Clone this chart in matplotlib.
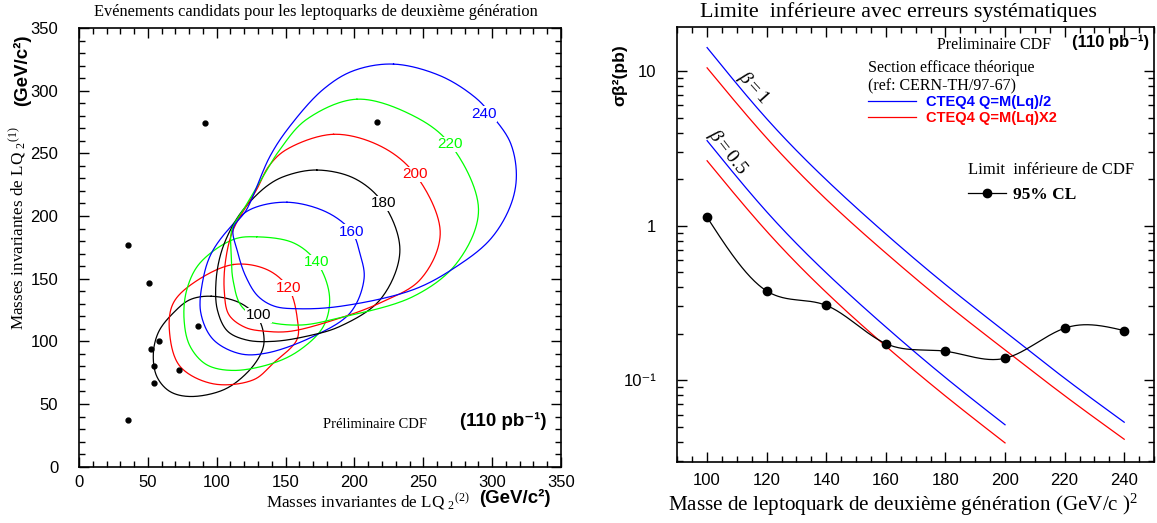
import numpy as np
import matplotlib
matplotlib.use("Agg")
import matplotlib.pyplot as plt
from matplotlib.lines import Line2D
from matplotlib.ticker import MultipleLocator, LogLocator, FixedLocator, FixedFormatter, NullFormatter

plt.rcParams['mathtext.fontset'] = 'custom'
plt.rcParams['mathtext.rm'] = 'Liberation Serif'
plt.rcParams['mathtext.it'] = 'Liberation Serif:italic'
plt.rcParams['mathtext.bf'] = 'Liberation Serif:bold'
SERIF = ['Liberation Serif', 'DejaVu Serif']
SANS = ['Liberation Sans', 'DejaVu Sans']

# ---------------- left panel data ----------------
event_m2 = [35.8, 50.9, 86.2, 58.1, 52.1, 54.7, 72.4, 54.7, 35.6, 91.5, 216.5]
event_m1 = [176.5, 146.9, 112.0, 100.0, 94.1, 80.0, 76.8, 66.7, 37.6, 274.3, 275.0]

contour_masses = [100, 120, 140, 160, 180, 200, 220, 240]
contour_colors = ['black', 'red', '#00ff00', 'blue', 'black', 'red', '#00ff00', 'blue']

c100_x = [96.0, 80.7, 68.5, 58.0, 54.0, 56.5, 66.0, 80.7, 104.9, 121.8, 132.0, 134.4, 130.3, 117.0]
c100_y = [136.0, 133.3, 122.7, 108.0, 90.7, 72.0, 60.0, 56.0, 61.3, 74.7, 90.0, 101.3, 118.0, 130.6]

c120_x = [112.1, 83.1, 68.5, 65.6, 73.4, 97.6, 126.6, 141.2, 158.2, 158.6, 152.1, 136.4]
c120_y = [161.3, 146.6, 130.6, 109.3, 80.0, 66.1, 69.3, 82.7, 101.3, 117.3, 142.6, 157.3]

c140_x = [129.0, 112.1, 87.9, 78.3, 76.3, 80.7, 92.8, 112.1, 141.2, 160.6, 177.5, 181.9, 172.7, 155.7]
c140_y = [183.4, 181.3, 162.6, 141.3, 117.3, 96.0, 81.3, 76.8, 82.7, 93.3, 112.0, 136.0, 163.1, 178.6]

c160_x = [151.0, 124.0, 109.0, 96.0, 90.0, 88.4, 97.6, 117.0, 136.4, 170.2, 196.9, 207.0, 204.0, 198.0, 180.0]
c160_y = [211.0, 205.0, 190.0, 170.0, 149.0, 123.0, 101.3, 90.1, 90.7, 104.0, 122.7, 150.0, 170.0, 187.5, 203.0]

c180_x = [172.7, 150.0, 136.4, 119.4, 110.0, 103.0, 99.5, 100.5, 108.0, 122.0, 141.2, 165.0, 189.6, 218.7, 233.0, 221.0, 200.0]
c180_y = [236.7, 232.0, 223.9, 205.3, 189.0, 170.0, 148.0, 125.0, 108.0, 101.0, 100.0, 104.0, 112.0, 133.3, 172.0, 210.0, 230.0]

c200_x = [184.8, 150.9, 138.0, 129.1, 112.1, 106.5, 105.5, 109.0, 121.0, 136.0, 153.3, 185.0, 218.7, 247.8, 262.3, 244.1, 218.7]
c200_y = [265.2, 253.2, 240.0, 221.3, 189.3, 165.0, 140.0, 121.0, 111.0, 108.0, 108.0, 117.0, 130.7, 149.3, 186.6, 233.3, 255.9]

c220_x = [201.8, 165.4, 146.0, 133.9, 121.0, 111.0, 110.5, 112.0, 118.0, 133.0, 160.0, 190.0, 242.9, 274.4, 290.1, 269.6, 242.9]
c220_y = [293.2, 277.2, 253.2, 231.9, 208.0, 189.0, 170.0, 148.0, 128.0, 117.0, 113.0, 119.0, 135.9, 162.6, 205.3, 257.2, 279.9]

c240_x = [228.4, 199.3, 177.5, 153.3, 138.8, 121.8, 112.0, 115.0, 121.0, 130.0, 142.0, 160.0, 190.0, 242.9, 274.4, 298.6, 313.2, 317.6, 313.2, 300.0, 287.7, 262.3]
c240_y = [321.2, 315.9, 301.2, 271.9, 247.9, 205.3, 190.0, 172.0, 152.0, 136.0, 128.0, 126.0, 128.0, 141.3, 159.9, 181.3, 207.9, 232.0, 258.6, 280.0, 294.6, 311.9]

label_x = [130.3, 152.1, 172.7, 198.0, 221.0, 244.1, 269.6, 293.8]
label_y = [120.8, 142.6, 163.1, 187.5, 210.0, 233.3, 257.2, 281.2]

# ---------------- right panel data ----------------
lq_mass = [100, 120, 140, 160, 180, 200, 220, 240]
cdf_limit = [1.133, 0.378, 0.305, 0.1725, 0.154, 0.1387, 0.217, 0.2094]

theory_mass_b1 = [100, 120, 140, 160, 180, 200, 220, 240]
sigma_b1_half = [14.2, 4.92, 1.98, 0.883, 0.416, 0.206, 0.103, 0.0535]
sigma_b1_x2 = [10.5, 3.69, 1.48, 0.665, 0.315, 0.157, 0.0794, 0.0415]

theory_mass_b05 = [100, 120, 140, 160, 180, 200]
sigma_b05_half = [3.55, 1.23, 0.495, 0.221, 0.104, 0.0515]
sigma_b05_x2 = [2.63, 0.92, 0.37, 0.166, 0.079, 0.0393]

right_ytick_vals = [0.1, 1, 10]
right_ytick_text = ['10\u207b\u00b9', '1', '10']


def closed_smooth(xs, ys, n=30):
    P = np.column_stack([xs, ys]).astype(float)
    N = len(P)
    out = []
    for i in range(N):
        p0, p1, p2, p3 = P[(i - 1) % N], P[i], P[(i + 1) % N], P[(i + 2) % N]
        t0 = 0.0
        t1 = t0 + np.linalg.norm(p1 - p0) ** 0.5
        t2 = t1 + np.linalg.norm(p2 - p1) ** 0.5
        t3 = t2 + np.linalg.norm(p3 - p2) ** 0.5
        t = np.linspace(t1, t2, n, endpoint=False)[:, None]
        A1 = (t1 - t) / (t1 - t0) * p0 + (t - t0) / (t1 - t0) * p1
        A2 = (t2 - t) / (t2 - t1) * p1 + (t - t1) / (t2 - t1) * p2
        A3 = (t3 - t) / (t3 - t2) * p2 + (t - t2) / (t3 - t2) * p3
        B1 = (t2 - t) / (t2 - t0) * A1 + (t - t0) / (t2 - t0) * A2
        B2 = (t3 - t) / (t3 - t1) * A2 + (t - t1) / (t3 - t1) * A3
        C = (t2 - t) / (t2 - t1) * B1 + (t - t1) / (t2 - t1) * B2
        out.append(C)
    out = np.vstack(out + [P[:1]])
    return out[:, 0], out[:, 1]


def natural_spline(x, y, xs):
    x = np.asarray(x, float)
    a = np.asarray(y, float)
    n = len(x)
    h = np.diff(x)
    A = np.zeros((n, n))
    r = np.zeros(n)
    A[0, 0] = A[-1, -1] = 1.0
    for i in range(1, n - 1):
        A[i, i - 1] = h[i - 1]
        A[i, i] = 2 * (h[i - 1] + h[i])
        A[i, i + 1] = h[i]
        r[i] = 3 * ((a[i + 1] - a[i]) / h[i] - (a[i] - a[i - 1]) / h[i - 1])
    c = np.linalg.solve(A, r)
    b = (a[1:] - a[:-1]) / h - h * (2 * c[:-1] + c[1:]) / 3
    d = (c[1:] - c[:-1]) / (3 * h)
    idx = np.clip(np.searchsorted(x, xs) - 1, 0, n - 2)
    dx = xs - x[idx]
    return a[idx] + b[idx] * dx + c[idx] * dx ** 2 + d[idx] * dx ** 3


def log_smooth(x, y, num=300):
    xs = np.linspace(x[0], x[-1], num)
    return xs, 10 ** natural_spline(x, np.log10(y), xs)


fig = plt.figure(figsize=(11.57, 5.23), dpi=100)
W, H = 1157.0, 523.0

# ================= LEFT PANEL =================
ax1 = fig.add_axes([79 / W, 1 - 466.7 / H, 482 / W, 438.7 / H])
ax1.set_xlim(0, 350)
ax1.set_ylim(0, 350)

contours_x = [c100_x, c120_x, c140_x, c160_x, c180_x, c200_x, c220_x, c240_x]
contours_y = [c100_y, c120_y, c140_y, c160_y, c180_y, c200_y, c220_y, c240_y]
for cx, cy, col in zip(contours_x, contours_y, contour_colors):
    sx, sy = closed_smooth(cx, cy)
    ax1.plot(sx, sy, color=col, lw=0.9)
for m, lx, ly, col in zip(contour_masses, label_x, label_y, contour_colors):
    ax1.text(lx, ly, str(m), color=col, fontsize=11, family=SANS, ha='center', va='center',
             bbox=dict(boxstyle='square,pad=0.05', fc='white', ec='none'), zorder=5)
ax1.plot(event_m2, event_m1, 'o', color='black', ms=3.5, zorder=6)

ax1.xaxis.set_major_locator(MultipleLocator(50))
ax1.xaxis.set_minor_locator(MultipleLocator(10))
ax1.yaxis.set_major_locator(MultipleLocator(50))
ax1.yaxis.set_minor_locator(MultipleLocator(10))

ax1.text(0.506, 0.097, 'Préliminaire CDF', transform=ax1.transAxes, family=SERIF,
         fontsize=10.5, ha='left', va='center')
ax1.text(0.79, 0.104, '(110 pb\u207b\u00b9)', transform=ax1.transAxes, family=SANS,
         fontsize=13.5, fontweight='bold', ha='left', va='center')

fig.text(316 / W, 1 - 12 / H, 'Evénements candidats pour les leptoquarks de deuxième génération',
         family=SERIF, fontsize=11.8, ha='center', va='center')
fig.text(266 / W, 1 - 502 / H, r'Masses invariantes de LQ $_{2}$$^{(2)}$', family=SERIF,
         fontsize=12.3, ha='left', va='center')
fig.text(479 / W, 1 - 498 / H, '(GeV/c\u00b2)', family=SANS, fontsize=13.5, fontweight='bold',
         ha='left', va='center')
fig.text(18 / W, 1 - 330 / H, r'Masses invariantes de LQ $_{2}$$^{(1)}$', family=SERIF,
         fontsize=12.3, rotation=90, ha='center', va='bottom')
fig.text(22 / W, 1 - 106 / H, '(GeV/c\u00b2)', family=SANS, fontsize=13.5, fontweight='bold',
         rotation=90, ha='center', va='bottom')

# ================= RIGHT PANEL =================
ax2 = fig.add_axes([677.3 / W, 1 - 461.7 / H, 476.7 / W, 434.7 / H])
ax2.set_yscale('log')
ax2.set_xlim(90, 250)
ax2.set_ylim(0.0297, 19.3)

xs, ys = log_smooth(theory_mass_b1, sigma_b1_half)
l_half, = ax2.plot(xs, ys, color='blue', lw=0.9, label='CTEQ4 Q=M(Lq)/2')
xs, ys = log_smooth(theory_mass_b1, sigma_b1_x2)
l_x2, = ax2.plot(xs, ys, color='red', lw=0.9, label='CTEQ4 Q=M(Lq)X2')
xs, ys = log_smooth(theory_mass_b05, sigma_b05_half)
ax2.plot(xs, ys, color='blue', lw=0.9)
xs, ys = log_smooth(theory_mass_b05, sigma_b05_x2)
ax2.plot(xs, ys, color='red', lw=0.9)

xs, ys = log_smooth(lq_mass, cdf_limit)
ax2.plot(xs, ys, color='black', lw=0.9)
ax2.plot(lq_mass, cdf_limit, 'o', color='black', ms=6)
cdf_handle = Line2D([], [], color='black', lw=0.9, marker='o', ms=6)

ax2.text(115.5, 7.8, r'$\beta = 1$', fontsize=14, rotation=-48, ha='center', va='center')
ax2.text(106.8, 3.0, r'$\beta = 0.5$', fontsize=14, rotation=-52, ha='center', va='center')

ax2.xaxis.set_major_locator(MultipleLocator(20))
ax2.xaxis.set_minor_locator(MultipleLocator(5))
ax2.yaxis.set_major_locator(FixedLocator(right_ytick_vals))
ax2.yaxis.set_major_formatter(FixedFormatter(right_ytick_text))
ax2.yaxis.set_minor_locator(LogLocator(base=10, subs=np.arange(2, 10), numticks=20))
ax2.yaxis.set_minor_formatter(NullFormatter())

leg1 = ax2.legend(handles=[l_half, l_x2], loc='upper left', bbox_to_anchor=(0.40, 0.925),
                  frameon=False, title='Section efficace théorique\n(ref: CERN-TH/97-67)',
                  prop={'family': SANS, 'weight': 'bold', 'size': 10.5},
                  title_fontproperties={'family': SERIF, 'size': 11.5},
                  labelcolor='linecolor', alignment='left', handlelength=3.3,
                  handletextpad=0.7, labelspacing=0.1, borderaxespad=0, borderpad=0)
ax2.add_artist(leg1)
leg2 = ax2.legend(handles=[cdf_handle], labels=['95% CL'], loc='upper left',
                  bbox_to_anchor=(0.61, 0.69), frameon=False,
                  title='Limit  inférieure de CDF',
                  prop={'family': SERIF, 'weight': 'bold', 'size': 12.5},
                  title_fontproperties={'family': SERIF, 'size': 12},
                  alignment='left', handlelength=2.2, handletextpad=0.4,
                  borderaxespad=0, borderpad=0)

ax2.text(0.545, 0.959, 'Preliminaire CDF', transform=ax2.transAxes, family=SERIF,
         fontsize=11.5, ha='left', va='center')
ax2.text(0.828, 0.965, '(110 pb\u207b\u00b9)', transform=ax2.transAxes, family=SANS,
         fontsize=12, fontweight='bold', ha='left', va='center')

fig.text(898 / W, 1 - 12 / H, 'Limite  inférieure avec erreurs systématiques', family=SERIF,
         fontsize=15.8, ha='center', va='center')
fig.text(668 / W, 1 - 505 / H, r'Masse de leptoquark de deuxième génération (GeV/c )$^{2}$',
         family=SERIF, fontsize=15.2, ha='left', va='center')
fig.text(620 / W, 1 - 75 / H, '\u03c3\u03b2\u00b2(pb)', family=SANS, fontsize=12.5,
         fontweight='bold', rotation=90, ha='center', va='center')

for ax, pad_y, pad_x in ((ax1, 15, 6), (ax2, 15, 8)):
    ax.tick_params(which='both', direction='in', top=True, right=True, width=1)
    ax.tick_params(which='major', length=7)
    ax.tick_params(which='minor', length=4)
    ax.tick_params(axis='y', which='major', pad=pad_y)
    ax.tick_params(axis='x', which='major', pad=pad_x)
    for lab in ax.get_xticklabels() + ax.get_yticklabels():
        lab.set_fontfamily(SANS)
        lab.set_fontsize(12)
    for sp in ax.spines.values():
        sp.set_linewidth(1.2)

fig.savefig('out.png', dpi=100)
